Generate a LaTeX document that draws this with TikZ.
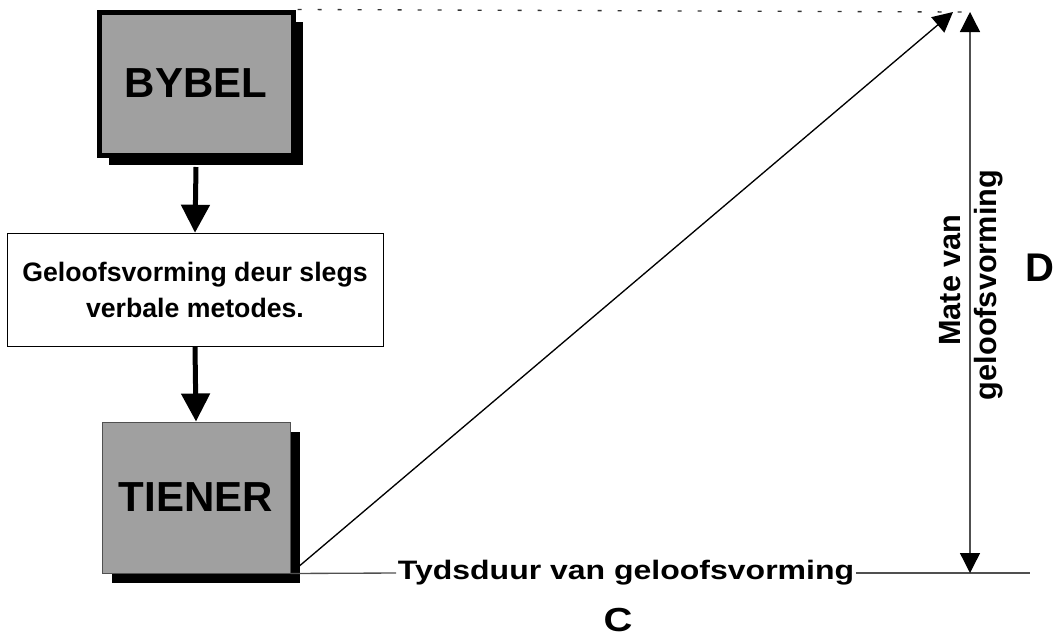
\documentclass[tikz,border=0pt]{standalone}
\usepackage{fontspec}
\setmainfont{Liberation Sans}
\newfontfamily\widefont[FakeStretch=1.2]{Liberation Sans}
\usetikzlibrary{arrows.meta,shadows,backgrounds}
\definecolor{boxgray}{HTML}{A0A0A0}
\definecolor{linegray}{HTML}{505050}

\begin{document}
\begin{tikzpicture}[
		x=0.75pt, y=-0.75pt,
		main/.style = {draw, fill=boxgray, font=\bfseries\fontsize{31.5}{36}\selectfont,
			general shadow={fill=black, shadow xshift=7.5pt, shadow yshift=-7.5pt}},
		note/.style = {draw, fill=white, align=center, font=\bfseries\fontsize{20}{27}\selectfont},
		flow/.style = {line width=3.75pt, -{Triangle[width=21pt, length=21pt]}},
		thin/.style = {line width=1pt, -{Triangle[width=15pt, length=15pt, color=black]}},
		lbl/.style = {font=\bfseries\fontsize{23}{27}\selectfont, inner sep=0pt}
	]
	\useasboundingbox (0,0) rectangle (1056,640);

	% Blocks.
	\node[main, line width=3.75pt, minimum width=145.5pt, minimum height=107.25pt] (b) at (196,83.5) {BYBEL};
	\node[note, minimum width=282pt, minimum height=84.75pt] (g) at (195,289.5) {Geloofsvorming deur slegs\\verbale metodes.};
	\node[main, draw=linegray, line width=0.75pt, minimum width=141pt, minimum height=113.25pt] (t) at (196,497.5) {TIENER};

	% Axes.
	\coordinate (tip) at (953,12);
	\coordinate (top) at (970,12);
	\coordinate (bot) at (970,573);
	\coordinate (end) at (1030,573);
	\node[font=\widefont\bfseries\fontsize{20}{24}\selectfont, fill=white, inner xsep=1pt, inner ysep=0pt] (tyd) at (626,573) {Tydsduur van geloofsvorming};
	\node[lbl, rotate=90] (m) at (950,280) {Mate van};
	\node[lbl, rotate=90] (n) at (989,285) {geloofsvorming};
	\node[font=\widefont\bfseries\fontsize{25}{30}\selectfont, inner sep=0pt] (c) at (618,620) {C};
	\node[font=\bfseries\fontsize{30}{36}\selectfont, inner sep=0pt] (d) at (1040,268) {D};

	\draw[flow] (196,167) to (g.north);
	\draw[flow] (g.south) to (t.north);

	\begin{scope}[on background layer]
		\draw[thin, black] (t.south east) to (tip);
	\end{scope}
	\draw[linegray, line width=1pt] (t.south east) -- (tyd.west);
	\draw[linegray, line width=1pt] (tyd.east) -- (end);
	\draw[thin, {Triangle[width=15pt, length=15pt, color=black]}-{Triangle[width=15pt, length=15pt, color=black]}, linegray] (top) -- (bot);
	\draw[black!80, line width=1pt, dash pattern=on 3pt off 12pt] (b.north east) ++(2,0) -- (962,12);
\end{tikzpicture}
\end{document}
